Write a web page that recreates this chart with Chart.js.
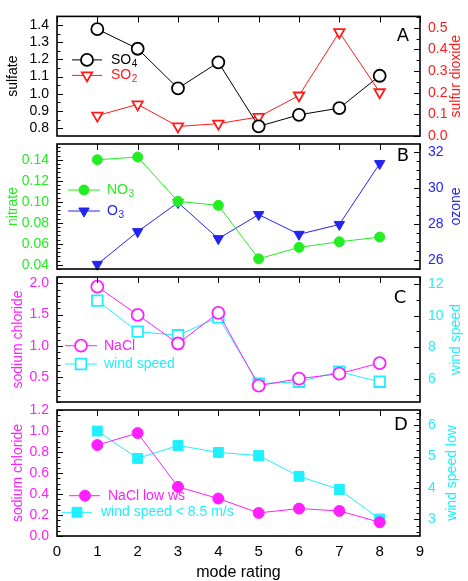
<!DOCTYPE html>
<html>
<head>
<meta charset="utf-8">
<script src="https://cdn.jsdelivr.net/npm/chart.js@4/dist/chart.umd.min.js"></script>
<style>
  html, body { margin: 0; padding: 0; background: #fff; }
  #wrap { position: relative; width: 468px; height: 581px; }
  #wrap canvas { position: absolute; left: 0; top: 0; }
</style>
</head>
<body>
<div id="wrap">
  <canvas id="panelA" width="468" height="581"></canvas>
  <canvas id="panelB" width="468" height="581"></canvas>
  <canvas id="panelC" width="468" height="581"></canvas>
  <canvas id="panelD" width="468" height="581"></canvas>
</div>
<script>
// Mean values per mode rating
const modeRating   = [1, 2, 3, 4, 5, 6, 7, 8];
const sulfate      = [1.376, 1.262, 1.032, 1.183, 0.811, 0.878, 0.917, 1.105];
const so2          = [0.094, 0.146, 0.044, 0.057, 0.088, 0.187, 0.479, 0.202];
const nitrate      = [0.140, 0.1426, 0.1004, 0.0966, 0.0457, 0.0566, 0.0619, 0.0664];
const ozone        = [25.76, 27.58, 29.20, 27.19, 28.53, 27.43, 27.98, 31.37];
const nacl         = [1.946, 1.494, 1.036, 1.526, 0.361, 0.473, 0.553, 0.723];
const windSpeed    = [10.95, 8.99, 8.76, 9.90, 5.70, 5.83, 6.46, 5.83];
const naclLowWs    = [0.866, 0.980, 0.468, 0.357, 0.220, 0.261, 0.239, 0.131];
const windSpeedLow = [5.81, 4.94, 5.35, 5.13, 5.03, 4.37, 3.95, 3.01];

// Tick labels
const xTicks        = [0, 1, 2, 3, 4, 5, 6, 7, 8, 9];
const sulfateTicks  = [0.8, 0.9, 1.0, 1.1, 1.2, 1.3, 1.4];
const so2Ticks      = [0.0, 0.1, 0.2, 0.3, 0.4, 0.5];
const nitrateTicks  = [0.04, 0.06, 0.08, 0.10, 0.12, 0.14];
const ozoneTicks    = [26, 28, 30, 32];
const naclTicks     = [0.5, 1.0, 1.5, 2.0];
const windTicks     = [6, 8, 10, 12];
const naclLowTicks  = [0.0, 0.2, 0.4, 0.6, 0.8, 1.0, 1.2];
const windLowTicks  = [3, 4, 5, 6];

const BLACK = '#000000', RED = '#ff1a1a', GREEN = '#22ee22', BLUE = '#2424f2',
      MAGENTA = '#ff1fff', CYAN = '#1ff0ff';

const FONT = "'Liberation Sans', Arial, Helvetica, sans-serif";
Chart.defaults.font.family = FONT;
Chart.defaults.font.size = 14;

const pts = ys => modeRating.map((x, i) => ({ x, y: ys[i] }));

function series(label, ys, axis, color, style, radius, filled, rotation) {
  return {
    label, data: pts(ys), yAxisID: axis,
    borderColor: color, borderWidth: 1,
    pointStyle: style, pointRadius: radius, pointRotation: rotation || 0,
    pointBorderColor: color, pointBorderWidth: filled ? 1 : 1.8,
    pointBackgroundColor: filled ? color : '#ffffff',
    tension: 0, clip: false
  };
}

// Left axes carry their own title; right-axis titles are drawn by panelDecor
// so they read bottom-to-top like the left ones.
function yAxis(pos, min, max, ticks, digits, color, title, titlePad) {
  return {
    type: 'linear', position: pos, min, max,
    afterFit: s => { s.width = pos === 'left' ? 57 : 48; },
    afterBuildTicks: s => { s.ticks = ticks.map(v => ({ value: v })); },
    grid: { display: false, drawTicks: false },
    border: { display: false },
    ticks: { color, padding: 8, autoSkip: false, font: { size: 14 },
             callback: v => Number(v).toFixed(digits) },
    title: { display: pos === 'left', text: title, color, font: { size: 14 },
             padding: { top: titlePad, bottom: 0 } }
  };
}

const hiddenX = { type: 'linear', min: 0, max: 9, display: false };

// Frame, inward tick marks, right-axis title, panel letter and legend
const panelDecor = {
  id: 'panelDecor',
  afterDraw(chart, args, opts) {
    const { ctx, chartArea: a } = chart;
    ctx.save();
    ctx.strokeStyle = '#000';
    ctx.lineWidth = 1;
    for (const spec of opts.axes) {
      const s = chart.scales[spec.id];
      const left = s.position === 'left';
      const x0 = left ? a.left : a.right;
      const dir = left ? 1 : -1;
      const i0 = Math.ceil(s.min / spec.minor - 1e-6);
      const i1 = Math.floor(s.max / spec.minor + 1e-6);
      for (let i = i0; i <= i1; i++) {
        const v = i * spec.minor;
        const r = v / spec.major;
        const major = Math.abs(r - Math.round(r)) < 1e-6;
        const y = Math.round(s.getPixelForValue(v)) + 0.5;
        ctx.beginPath();
        ctx.moveTo(x0, y);
        ctx.lineTo(x0 + dir * (major ? 6 : 3.5), y);
        ctx.stroke();
      }
    }
    const xs = chart.scales.x;
    for (const v of xTicks) {
      const x = Math.round(xs.getPixelForValue(v)) + 0.5;
      ctx.beginPath();
      ctx.moveTo(x, a.top);
      ctx.lineTo(x, a.top + 6);
      ctx.stroke();
    }
    ctx.lineWidth = 1.6;
    ctx.strokeRect(a.left, a.top, a.right - a.left, a.bottom - a.top);

    // right-axis title
    const rs = chart.scales.y1;
    ctx.save();
    ctx.translate(chart.width - opts.rightTitleInset, (a.top + a.bottom) / 2);
    ctx.rotate(-Math.PI / 2);
    ctx.fillStyle = rs.options.ticks.color;
    ctx.font = '14px ' + FONT;
    ctx.textAlign = 'center';
    ctx.textBaseline = 'middle';
    ctx.fillText(rs.options.title.text, 0, 0);
    ctx.restore();

    ctx.fillStyle = '#000';
    ctx.font = "18px 'DejaVu Sans', sans-serif";
    ctx.textAlign = 'center';
    ctx.textBaseline = 'middle';
    ctx.fillText(opts.letter, a.right + opts.letterDx, a.top + opts.letterDy);

    for (const it of opts.legend) {
      const ds = chart.data.datasets[it.ds];
      const y = a.top + it.dy;
      ctx.strokeStyle = ds.borderColor;
      ctx.lineWidth = ds.borderWidth;
      ctx.beginPath();
      ctx.moveTo(a.left + it.x0, y);
      ctx.lineTo(a.left + it.x1, y);
      ctx.stroke();
      ctx.fillStyle = ds.pointBackgroundColor;
      ctx.strokeStyle = ds.pointBorderColor;
      ctx.lineWidth = ds.pointBorderWidth;
      Chart.helpers.drawPoint(ctx, {
        pointStyle: ds.pointStyle, radius: ds.pointRadius,
        rotation: ds.pointRotation, borderWidth: ds.pointBorderWidth
      }, a.left + it.mx, y);
      ctx.fillStyle = ds.borderColor;
      ctx.textAlign = 'left';
      ctx.textBaseline = 'middle';
      ctx.font = '14px ' + FONT;
      const tx = a.left + it.tx;
      ctx.fillText(it.text, tx, y);
      if (it.sub) {
        const w = ctx.measureText(it.text).width;
        ctx.font = '10px ' + FONT;
        ctx.fillText(it.sub, tx + w + 0.5, y + 4);
      }
    }
    ctx.restore();
  }
};

function makeChart(id, datasets, scales, padding, decor) {
  return new Chart(document.getElementById(id), {
    type: 'line',
    data: { datasets },
    options: {
      responsive: false, animation: false, devicePixelRatio: 1,
      layout: { padding },
      scales,
      plugins: { legend: { display: false }, tooltip: { enabled: false }, panelDecor: decor }
    },
    plugins: [panelDecor]
  });
}

// A: sulfate and sulfur dioxide
makeChart('panelA', [
  series('SO4', sulfate, 'y', BLACK, 'circle', 6, false),
  series('SO2', so2, 'y1', RED, 'triangle', 6, false, 180)
], {
  x: hiddenX,
  y: yAxis('left', 0.755, 1.45, sulfateTicks, 1, BLACK, 'sulfate', 4.6),
  y1: yAxis('right', 0, 0.552, so2Ticks, 1, RED, 'sulfur dioxide', 0)
}, { top: 11, bottom: 445, left: 0, right: 0 }, {
  letter: 'A', letterDx: -17, letterDy: 20, rightTitleInset: 12,
  axes: [{ id: 'y', major: 0.1, minor: 0.05 }, { id: 'y1', major: 0.1, minor: 0.05 }],
  legend: [
    { ds: 0, x0: 15, x1: 45, mx: 30, dy: 43.5, tx: 54, text: 'SO', sub: '4' },
    { ds: 1, x0: 15, x1: 45, mx: 30, dy: 59, tx: 54, text: 'SO', sub: '2' }
  ]
});

// B: nitrate and ozone
makeChart('panelB', [
  series('NO3', nitrate, 'y', GREEN, 'circle', 5, true),
  series('O3', ozone, 'y1', BLUE, 'triangle', 6, true, 180)
], {
  x: hiddenX,
  y: yAxis('left', 0.036, 0.155, nitrateTicks, 2, GREEN, 'nitrate', 4.6),
  y1: yAxis('right', 25.5, 32.46, ozoneTicks, 0, BLUE, 'ozone', 0)
}, { top: 144, bottom: 312, left: 0, right: 0 }, {
  letter: 'B', letterDx: -17, letterDy: 12.5, rightTitleInset: 12,
  axes: [{ id: 'y', major: 0.02, minor: 0.004 }, { id: 'y1', major: 2, minor: 0.5 }],
  legend: [
    { ds: 0, x0: 11, x1: 43, mx: 27, dy: 46, tx: 50, text: 'NO', sub: '3' },
    { ds: 1, x0: 11, x1: 43, mx: 27, dy: 67, tx: 50, text: 'O', sub: '3' }
  ]
});

// C: sodium chloride and wind speed
makeChart('panelC', [
  series('NaCl', nacl, 'y', MAGENTA, 'circle', 6, false),
  series('wind speed', windSpeed, 'y1', CYAN, 'rect', 7.5, false)
], {
  x: hiddenX,
  y: yAxis('left', 0.1, 2.1, naclTicks, 1, MAGENTA, 'sodium chloride', 9.6),
  y1: yAxis('right', 4.55, 12.44, windTicks, 0, CYAN, 'wind speed', 0)
}, { top: 277, bottom: 179, left: 0, right: 0 }, {
  letter: 'C', letterDx: -20, letterDy: 21, rightTitleInset: 12,
  axes: [{ id: 'y', major: 0.5, minor: 0.1 }, { id: 'y1', major: 2, minor: 1 }],
  legend: [
    { ds: 0, x0: 8, x1: 40, mx: 24, dy: 68.7, tx: 47, text: 'NaCl' },
    { ds: 1, x0: 8, x1: 40, mx: 24, dy: 87, tx: 47, text: 'wind speed' }
  ]
});

// D: sodium chloride and wind speed on low-wind days
makeChart('panelD', [
  series('NaCl low ws', naclLowWs, 'y', MAGENTA, 'circle', 5.5, true),
  series('wind speed < 8.5 m/s', windSpeedLow, 'y1', CYAN, 'rect', 7, true)
], {
  x: {
    type: 'linear', min: 0, max: 9,
    afterFit: s => { s.height = 45; },
    afterBuildTicks: s => { s.ticks = xTicks.map(v => ({ value: v })); },
    grid: { display: false, drawTicks: false },
    border: { display: false },
    ticks: { color: BLACK, padding: 7, autoSkip: false, maxRotation: 0, font: { size: 15 },
             callback: v => String(v) },
    title: { display: true, text: 'mode rating', color: BLACK,
             font: { size: 16, lineHeight: 1 }, padding: { top: 0, bottom: 0 } }
  },
  y: yAxis('left', 0, 1.2, naclLowTicks, 1, MAGENTA, 'sodium chloride', 9.6),
  y1: yAxis('right', 2.47, 6.48, windLowTicks, 0, CYAN, 'wind speed low', 0)
}, { top: 410, bottom: 0, left: 0, right: 0 }, {
  letter: 'D', letterDx: -19, letterDy: 15, rightTitleInset: 16,
  axes: [{ id: 'y', major: 0.2, minor: 0.05 }, { id: 'y1', major: 1, minor: 0.2 }],
  legend: [
    { ds: 0, x0: 12, x1: 43, mx: 28, dy: 85.7, tx: 51, text: 'NaCl low ws' },
    { ds: 1, x0: 5, x1: 35, mx: 20, dy: 102.3, tx: 44, text: 'wind speed < 8.5 m/s' }
  ]
});
</script>
</body>
</html>
